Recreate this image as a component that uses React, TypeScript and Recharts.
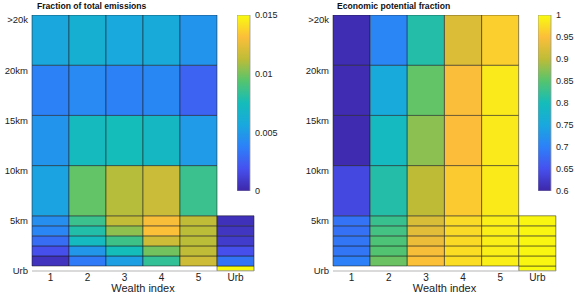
import React from 'react';
import { BarChart, Bar, XAxis, YAxis, Cell } from 'recharts';

// columns (wealth index) and distance bands, bottom to top
const WEALTH = ['1', '2', '3', '4', '5', 'Urb'];
const BANDS = ['urb', 'd0', 'd1', 'd2', 'd3', 'd4', 'd5', 'd10', 'd15', 'd20'];
const BAND_SIZE = [0.5, 1, 1, 1, 1, 1, 5, 5, 5, 5];
const Y_TICKS = [0, 5, 10, 15, 20, 25];
const Y_LABELS = ['Urb', '5km', '10km', '15km', '20km', '>20k'];

// Fraction of total emissions, one list per band (cols 1..5, Urb)
const EMIS_URB = [null, null, null, null, null, 0.015];
const EMIS_0_1 = [0.0006, 0.0035, 0.0052, 0.0084, 0.0117, 0.0033];
const EMIS_1_2 = [0.0018, 0.0048, 0.0075, 0.0099, 0.0113, 0.0018];
const EMIS_2_3 = [0.003, 0.0072, 0.0087, 0.0117, 0.0112, 0.001];
const EMIS_3_4 = [0.004, 0.0079, 0.0104, 0.0132, 0.0112, 0.0007];
const EMIS_4_5 = [0.0044, 0.0086, 0.0114, 0.013, 0.0113, 0.0005];
const EMIS_5_10 = [0.0054, 0.0096, 0.0111, 0.0116, 0.0086, null];
const EMIS_10_15 = [0.0047, 0.0073, 0.0075, 0.0071, 0.005, null];
const EMIS_15_20 = [0.0038, 0.0042, 0.0038, 0.0041, 0.0026, null];
const EMIS_20P = [0.0056, 0.0063, 0.0057, 0.0059, 0.0047, null];

// Economic potential fraction
const POT_URB = [null, null, null, null, null, 1.0];
const POT_0_1 = [0.7, 0.86, 0.952, 0.975, 0.99, 0.996];
const POT_1_2 = [0.69, 0.848, 0.946, 0.975, 0.99, 0.996];
const POT_2_3 = [0.69, 0.844, 0.936, 0.973, 0.99, 0.996];
const POT_3_4 = [0.684, 0.836, 0.928, 0.972, 0.99, 0.996];
const POT_4_5 = [0.686, 0.828, 0.92, 0.972, 0.99, 0.996];
const POT_5_10 = [0.64, 0.812, 0.9, 0.96, 0.986, null];
const POT_10_15 = [0.606, 0.792, 0.876, 0.95, 0.985, null];
const POT_15_20 = [0.607, 0.756, 0.856, 0.948, 0.985, null];
const POT_20P = [0.608, 0.708, 0.812, 0.924, 0.964, null];

const EMIS_ROWS = [EMIS_URB, EMIS_0_1, EMIS_1_2, EMIS_2_3, EMIS_3_4, EMIS_4_5, EMIS_5_10, EMIS_10_15, EMIS_15_20, EMIS_20P];
const POT_ROWS = [POT_URB, POT_0_1, POT_1_2, POT_2_3, POT_3_4, POT_4_5, POT_5_10, POT_10_15, POT_15_20, POT_20P];

const EMIS_TICKS = [0, 0.005, 0.01, 0.015];
const POT_TICKS = [0.6, 0.65, 0.7, 0.75, 0.8, 0.85, 0.9, 0.95, 1];

// parula-like colormap stops
const PARULA: [number, number, number, number][] = [
  [0, 62, 38, 168],
  [0.125, 70, 80, 238],
  [0.25, 45, 128, 248],
  [0.375, 25, 168, 222],
  [0.5, 20, 188, 186],
  [0.625, 85, 196, 110],
  [0.75, 190, 188, 55],
  [0.875, 252, 190, 58],
  [1, 249, 251, 14],
];

function parula(t: number) {
  const x = Math.max(0, Math.min(1, t));
  for (let i = 1; i < PARULA.length; i++) {
    const a = PARULA[i - 1];
    const b = PARULA[i];
    if (x <= b[0]) {
      const f = (x - a[0]) / (b[0] - a[0]);
      const c = [1, 2, 3].map(k => Math.round(a[k] + (b[k] - a[k]) * f));
      return `rgb(${c[0]},${c[1]},${c[2]})`;
    }
  }
  return 'rgb(249,251,14)';
}

const FONT = '"Liberation Sans", Arial, sans-serif';
const fmt = (v: number) => String(Number(v.toFixed(3)));

function HeatPanel({ rows, min, max, left, width, right, yWidth }: any) {
  const data = WEALTH.map((w, ci) => {
    const o: any = { name: w };
    BANDS.forEach((b, bi) => {
      o[b] = rows[bi][ci] == null && bi > 0 ? 0 : BAND_SIZE[bi];
    });
    return o;
  });

  return (
    <div style={{ position: 'absolute', left, top: 0 }}>
      <BarChart width={width} height={295} data={data} barCategoryGap={0} barGap={0}
        margin={{ top: 15, right, bottom: 0, left: 0 }}>
        <XAxis dataKey="name" type="category" interval={0} height={24} tickLine={false} tickSize={0} tickMargin={3}
          axisLine={{ stroke: '#b5b5b5' }} tick={{ fill: '#222', fontSize: 10 }}
          label={{ value: 'Wealth index', position: 'insideBottom', offset: 3, fontSize: 11, fill: '#222' }} />
        <YAxis type="number" domain={[0, 25.5]} ticks={Y_TICKS} interval={0} width={yWidth} allowDataOverflow
          axisLine={false} tickLine={false} tickSize={0} tickMargin={4} tick={{ fill: '#222', fontSize: 9.5 }}
          tickFormatter={(v: number) => Y_LABELS[Y_TICKS.indexOf(v)]} />
        {BANDS.map((b, bi) => (
          <Bar key={b} dataKey={b} stackId="s" isAnimationActive={false}>
            {WEALTH.map((w, ci) => {
              const v = rows[bi][ci];
              return (
                <Cell key={w} fill={v == null ? 'none' : parula((v - min) / (max - min))}
                  stroke={v == null ? 'none' : '#1c1c1c'} strokeOpacity={0.65} strokeWidth={0.8} />
              );
            })}
          </Bar>
        ))}
      </BarChart>
    </div>
  );
}

function ColorBar({ left, min, max, ticks, axisWidth }: any) {
  return (
    <div style={{ position: 'absolute', left, top: 0 }}>
      <BarChart width={13 + axisWidth} height={200} data={[{ k: 'c', v: max }]} barCategoryGap={0}
        margin={{ top: 15, right: 0, bottom: 9, left: 0 }}>
        <XAxis dataKey="k" hide />
        <YAxis orientation="right" type="number" domain={[min, max]} ticks={ticks} interval={0} width={axisWidth}
          axisLine={false} tickLine={false} tickSize={0} tickMargin={5} allowDataOverflow
          tick={{ fill: '#222', fontSize: 9 }} tickFormatter={fmt} />
        <Bar dataKey="v" fill="url(#parulaGrad)" stroke="#9a9a9a" strokeWidth={0.8} isAnimationActive={false} />
      </BarChart>
    </div>
  );
}

export default function App() {
  return (
    <div style={{ position: 'absolute', left: 0, top: 0, width: 575, height: 295, overflow: 'hidden', background: '#fff', fontFamily: FONT }}>
      <svg width={0} height={0} style={{ position: 'absolute' }}>
        <defs>
          <linearGradient id="parulaGrad" x1="0" y1="1" x2="0" y2="0">
            {Array.from({ length: 33 }, (_, i) => (
              <stop key={i} offset={i / 32} stopColor={parula(i / 32)} />
            ))}
          </linearGradient>
        </defs>
      </svg>
      <div style={{ position: 'absolute', left: 37, top: 2, fontSize: 8.6, lineHeight: 1, fontWeight: 'bold', color: '#111' }}>
        Fraction of total emissions
      </div>
      <div style={{ position: 'absolute', left: 337, top: 2, fontSize: 8.6, lineHeight: 1, fontWeight: 'bold', color: '#111' }}>
        Economic potential fraction
      </div>
      <HeatPanel rows={EMIS_ROWS} min={0} max={0.015} left={0} width={290} right={36} yWidth={32} />
      <HeatPanel rows={POT_ROWS} min={0.6} max={1} left={290} width={285} right={19} yWidth={43} />
      <ColorBar left={237} min={0} max={0.015} ticks={EMIS_TICKS} axisWidth={30} />
      <ColorBar left={538} min={0.6} max={1} ticks={POT_TICKS} axisWidth={24} />
    </div>
  );
}
